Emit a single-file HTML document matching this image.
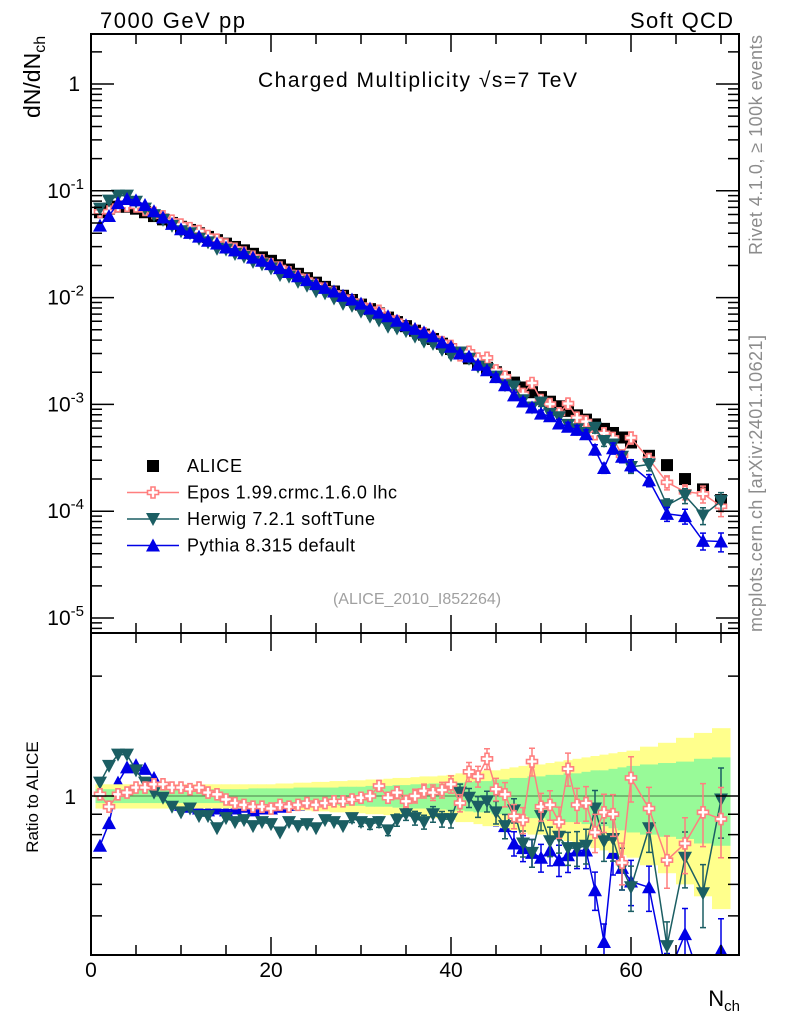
<!DOCTYPE html>
<html><head><meta charset="utf-8">
<style>
html,body{margin:0;padding:0;background:#fff;}
svg{display:block;font-family:"Liberation Sans",sans-serif;}
</style></head>
<body>
<svg id="chart" width="786" height="1024" viewBox="0 0 786 1024" xmlns="http://www.w3.org/2000/svg">
  <text x="100" y="28" font-size="22" textLength="145">7000 GeV pp</text>
  <text x="733" y="28" font-size="22" text-anchor="end" textLength="103">Soft QCD</text>
  <text x="258" y="87" font-size="21" textLength="319">Charged Multiplicity √s=7 TeV</text>
  <text transform="translate(40,118) rotate(-90)" font-size="23" text-anchor="start">dN/dN<tspan font-size="16" dy="5">ch</tspan></text>
  <text transform="translate(38,797) rotate(-90)" font-size="17" text-anchor="middle">Ratio to ALICE</text>
  <text transform="translate(762,35) rotate(-90)" font-size="18" fill="#8c8c8c" text-anchor="end" textLength="220">Rivet 4.1.0, ≥ 100k events</text>
  <text transform="translate(762,632) rotate(-90)" font-size="18" fill="#8c8c8c" text-anchor="start" textLength="297">mcplots.cern.ch [arXiv:2401.10621]</text>
  <text x="417" y="604" font-size="16" fill="#a0a0a0" text-anchor="middle">(ALICE_2010_I852264)</text>
  <text x="740" y="1006" font-size="22" text-anchor="end">N<tspan font-size="15" dy="5">ch</tspan></text>
  <g id="under"></g>
  <g id="bands"></g>
  <g id="marks"></g>
  <g id="axes"></g>
  <g id="legend"></g>
</svg>
<script>
const nch = [1,2,3,4,5,6,7,8,9,10,11,12,13,14,15,16,17,18,19,20,21,22,23,24,25,26,27,28,29,30,31,32,33,34,35,36,37,38,39,40,41,42,43,44,45,46,47,48,49,50,51,52,53,54,55,56,57,58,59,60,62,64,66,68,70];
const alice = [.063,.068,.071,.071,.068,.063,.058,.054,.050,.046,.043,.040,.037,.0345,.032,.0298,.0277,.0257,.0238,.0221,.0201,.0183,.0167,.0152,.0138,.0126,.0114,.0104,.0095,.0086,.0078,.0071,.0065,.0059,.0054,.0049,.0045,.0041,.0037,.0033,.0030,.0027,.0024,.0022,.0020,.0018,.0016,.00144,.0013,.00117,.00106,.00096,.00087,.00079,.00072,.00065,.00059,.00054,.00049,.00044,.00033,.00027,.0002,.00016,.000127];
const greenErr = [.04,.04,.04,.04,.04,.04,.04,.04,.04,.04,.04,.04,.04,.04,.04,.04,.04,.045,.045,.045,.045,.045,.05,.05,.05,.05,.05,.055,.055,.055,.06,.06,.06,.065,.065,.07,.07,.075,.075,.08,.08,.085,.09,.09,.1,.1,.11,.11,.12,.12,.13,.13,.14,.14,.15,.16,.16,.17,.18,.19,.2,.21,.22,.24,.25];
const yellowErr = [.07,.07,.07,.07,.07,.07,.07,.07,.07,.07,.07,.07,.07,.07,.07,.07,.07,.07,.07,.07,.075,.075,.08,.08,.085,.085,.09,.09,.095,.095,.1,.1,.105,.11,.11,.115,.12,.12,.125,.13,.14,.14,.15,.16,.16,.17,.18,.19,.2,.2,.21,.22,.23,.24,.25,.26,.27,.28,.29,.3,.33,.36,.4,.44,.48];
const eposRatio = [1.01,.94,1.01,1.02,1.05,1.05,1.07,1.07,1.05,1.05,1.04,1.05,1.02,1.01,.98,.96,.95,.94,.94,.93,.95,.94,.95,.96,.95,.96,.97,.97,.98,.99,1.0,1.06,.99,1.02,.97,1.0,1.03,1.02,1.035,1.07,.96,1.15,1.12,1.24,1.04,1.01,.89,.87,1.22,.94,.95,.86,1.17,.95,.96,.81,.91,.90,.68,1.11,.93,.69,.76,.91,.875];
const herwigRatio = [1.08,1.19,1.27,1.27,1.16,1.08,1.02,.99,.94,.91,.93,.89,.89,.83,.88,.86,.87,.84,.86,.85,.81,.86,.84,.85,.83,.87,.86,.84,.88,.86,.85,.86,.82,.87,.9,.88,.86,.9,.875,.875,1.02,.99,.94,.97,.91,.84,.92,.76,.72,.89,.77,.79,.74,.74,.75,.93,.77,.78,.66,.59,.83,.42,.70,.57,.98];
const pythiaRatio = [.75,.855,1.08,1.18,1.195,1.17,1.11,1.04,.98,.95,.94,.93,.92,.93,.92,.93,.94,.92,.93,.93,.94,.95,.95,.96,.97,.98,1.0,1.0,1.01,1.02,1.01,1.02,1.03,1.03,1.02,1.04,1.05,1.06,1.03,1.05,1.0,1.04,.98,.95,.9,.84,.76,.74,.72,.70,.73,.69,.71,.73,.73,.58,.43,.72,.66,.61,.59,.35,.45,.33,.41];
const mcRelErr = [.01,.01,.01,.01,.01,.01,.01,.01,.01,.01,.01,.01,.01,.01,.01,.01,.01,.01,.01,.01,.015,.015,.015,.015,.02,.02,.02,.02,.025,.025,.03,.03,.03,.035,.035,.04,.04,.045,.045,.05,.05,.055,.06,.06,.065,.07,.07,.075,.08,.08,.085,.09,.095,.1,.1,.11,.11,.12,.12,.13,.13,.15,.16,.18,.2];
const ratioTicks = [2,0.9,0.8,0.7,0.6,0.5];
const mainTickLabels = ["1","10","10","10","10","10"];
const mainTickExp = ["","-1","-2","-3","-4","-5"];
const xTickLabels = ["0","20","40","60"];

const NS="http://www.w3.org/2000/svg";
const L=91,R=739,T=34,MB=633,RB=955;
const X=n=>L+9*n;
const YM=v=>84-106.8*Math.log10(v);
const YR=r=>796-173*Math.log(r);
const clampR=y=>Math.max(MB,Math.min(RB,y));
function mk(tag,attrs,parent){const e=document.createElementNS(NS,tag);for(const k in attrs)e.setAttribute(k,attrs[k]);parent.appendChild(e);return e;}
const under=document.getElementById('under'),bands=document.getElementById('bands'),marks=document.getElementById('marks'),axes=document.getElementById('axes'),legend=document.getElementById('legend');
function halfW(i){const lo=i>0?(nch[i]-nch[i-1])/2:0.5;const hi=i<nch.length-1?(nch[i+1]-nch[i])/2:1;return [lo,hi];}

[[yellowErr,'#ffff8c','yellow-band'],[greenErr,'#98fa98','green-band']].forEach(([err,col,name])=>{
  nch.forEach((n,i)=>{const [lo,hi]=halfW(i);const y1=clampR(YR(1+err[i])),y2=clampR(YR(1-err[i]));
    const r=mk('rect',{x:X(n-lo),y:y1,width:X(n+hi)-X(n-lo)+0.5,height:y2-y1,fill:col},bands);
    
    });
});
mk('line',{x1:L,x2:R,y1:YR(1),y2:YR(1),stroke:'#000','stroke-width':0.5},bands);

function marker(kind,x,y,col,g){
  if(kind==='sq') return mk('rect',{x:x-6,y:y-6,width:12,height:12,fill:col},g);
  if(kind==='dn') return mk('polygon',{points:`${x-7},${y-6} ${x+7},${y-6} ${x},${y+7}`,fill:col},g);
  if(kind==='up') return mk('polygon',{points:`${x-7},${y+6} ${x+7},${y+6} ${x},${y-7}`,fill:col},g);
  if(kind==='cross'){const a=2,b=5.5;return mk('polygon',{points:`${x-a},${y-b} ${x+a},${y-b} ${x+a},${y-a} ${x+b},${y-a} ${x+b},${y+a} ${x+a},${y+a} ${x+a},${y+b} ${x-a},${y+b} ${x-a},${y+a} ${x-b},${y+a} ${x-b},${y-a} ${x-a},${y-a}`,fill:'#fff',stroke:col,'stroke-width':1.6},g);}
}

const defs=mk('defs',{},document.getElementById('chart'));
const c1=mk('clipPath',{id:'cm'},defs);mk('rect',{x:L,y:T,width:R-L,height:MB-T},c1);
const c2=mk('clipPath',{id:'cr'},defs);mk('rect',{x:L,y:MB,width:R-L,height:RB-MB},c2);

const gData=mk('g',{'clip-path':'url(#cm)'},marks);


nch.forEach((n,i)=>{const m=marker('sq',X(n),YM(alice[i]),'#000',gData);
  
  });

const series=[
  {r:pythiaRatio,col:'#0000e6',kind:'up',name:'pythia',under:true},
  {r:herwigRatio,col:'#1b5e63',kind:'dn',name:'herwig',under:false},
  {r:eposRatio,col:'#ff7f7f',kind:'cross',name:'epos',under:false}];
const mainOrder=[];
series.forEach(s=>{
  const gr=mk('g',{'clip-path':'url(#cr)'},s.under?under:marks);
  
  
  mk('polyline',{points:nch.map((n,i)=>X(n)+','+YR(s.r[i])).join(' '),fill:'none',stroke:s.col,'stroke-width':1.5},gr);
  nch.forEach((n,i)=>{
    const e=mcRelErr[i];
    if(e>0.02){
      mk('path',{d:`M${X(n)},${YR(s.r[i]*(1+e))}V${YR(s.r[i]*(1-e))}M${X(n)-3},${YR(s.r[i]*(1+e))}h6M${X(n)-3},${YR(s.r[i]*(1-e))}h6`,stroke:s.col,'stroke-width':1.5,fill:'none'},gr);
    }
    const m2=marker(s.kind,X(n),YR(s.r[i]),s.col,gr);
    
    
  });
});
[series[2],series[1],series[0]].forEach(s=>{
  const gm=mk('g',{'clip-path':'url(#cm)'},marks);
  
  
  const vals=nch.map((n,i)=>alice[i]*s.r[i]);
  mk('polyline',{points:nch.map((n,i)=>X(n)+','+YM(vals[i])).join(' '),fill:'none',stroke:s.col,'stroke-width':1.5},gm);
  nch.forEach((n,i)=>{
    const e=mcRelErr[i];
    if(e>0.02){
      mk('path',{d:`M${X(n)},${YM(vals[i]*(1+e))}V${YM(vals[i]*(1-e))}M${X(n)-3},${YM(vals[i]*(1+e))}h6M${X(n)-3},${YM(vals[i]*(1-e))}h6`,stroke:s.col,'stroke-width':1.5,fill:'none'},gm);
    }
    const m1=marker(s.kind,X(n),YM(vals[i]),s.col,gm);
    
    
  });
});

const f1=mk('rect',{x:L,y:T,width:R-L,height:MB-T,fill:'none',stroke:'#000','stroke-width':2},axes);


const f2=mk('rect',{x:L,y:MB,width:R-L,height:RB-MB,fill:'none',stroke:'#000','stroke-width':2},axes);


let d='';
for(let n=0;n<=72;n+=5){const maj=n%20===0;const len=maj?18:10;const x=X(n);
  d+=`M${x},${T}v${len}M${x},${MB}v${-len}M${x},${MB}v${len}M${x},${RB}v${-len}`;}
for(let p=0;p>=-6;p--){for(let k=1;k<=9;k++){const y=YM(k*Math.pow(10,p));if(y<T||y>MB)continue;const len=k===1?23:11;d+=`M${L},${y}h${len}M${R},${y}h${-len}`;}}
d+=`M${L},${YR(1)}h23M${R},${YR(1)}h-23`;
ratioTicks.forEach(r=>{const y=YR(r);d+=`M${L},${y}h11M${R},${y}h-11`;});
mk('path',{d:d,stroke:'#000','stroke-width':1.5,fill:'none'},axes);
mainTickLabels.forEach((t,i)=>{const y=YM(Math.pow(10,-i));
  const tx=mk('text',{x:i===0?80:82,y:y+7,'font-size':21,'text-anchor':'end'},axes);
  tx.textContent=t;
  if(mainTickExp[i]){const ts=mk('tspan',{'font-size':15,dy:-9},tx);ts.textContent=mainTickExp[i];tx.setAttribute('x',84);}
  
  });
const r1=mk('text',{x:76,y:YR(1)+8,'font-size':21,'text-anchor':'end'},axes);r1.textContent='1';


xTickLabels.forEach(t=>{const tx=mk('text',{x:X(+t),y:977,'font-size':21,'text-anchor':'middle'},axes);tx.textContent=t;
  
  });

const leg=[{label:'ALICE',kind:'sq',col:'#000',line:false,w:55},{label:'Epos 1.99.crmc.1.6.0 lhc',kind:'cross',col:'#ff7f7f',line:true,w:210},{label:'Herwig 7.2.1 softTune',kind:'dn',col:'#1b5e63',line:true,w:188},{label:'Pythia 8.315 default',kind:'up',col:'#0000e6',line:true,w:168}];
leg.forEach((e,i)=>{const y=466+i*26.5;
  const g=mk('g',{},legend);
  
  
  if(e.line) mk('line',{x1:127,x2:179,y1:y,y2:y,stroke:e.col,'stroke-width':1.5},g);
  marker(e.kind,153,y,e.col,g);
  const t=mk('text',{x:187,y:y+6,'font-size':18,textLength:e.w},g);t.textContent=e.label;});
</script>
</body></html>
